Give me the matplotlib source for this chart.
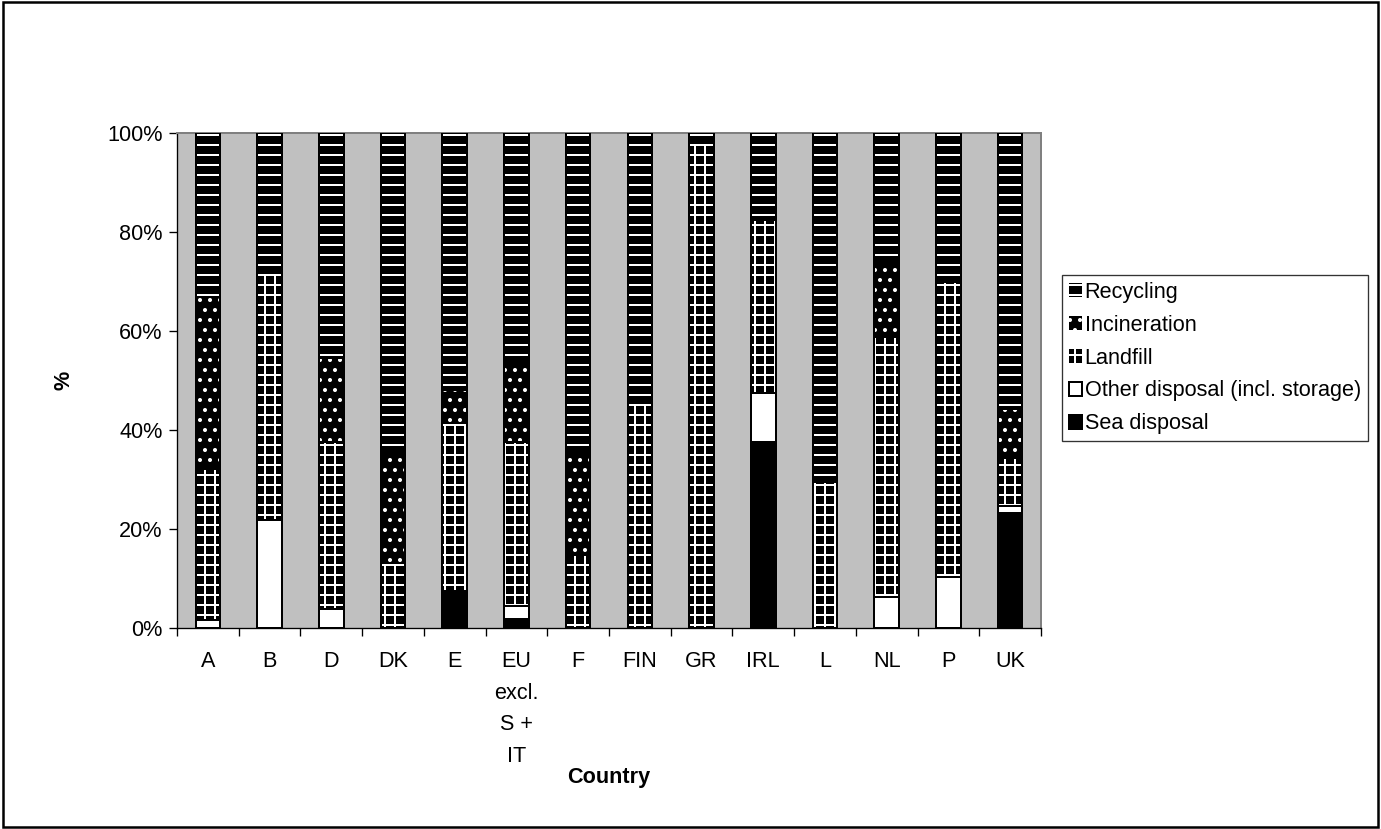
import matplotlib
matplotlib.use("Agg")
import matplotlib.pyplot as plt
import numpy as np
from matplotlib.patches import Patch, Rectangle
from matplotlib.ticker import PercentFormatter

plt.rcParams['font.family'] = ['Liberation Sans', 'DejaVu Sans']
plt.rcParams['hatch.linewidth'] = 1.2

# share of each disposal route, per country (%), stacked bottom to top
countries = ["A", "B", "D", "DK", "E", "EU\nexcl.\nS +\nIT", "F", "FIN",
             "GR", "IRL", "L", "NL", "P", "UK"]
sea_disposal = [0, 0, 0, 0, 7.4, 1.8, 0, 0, 0, 37.6, 0, 0, 0, 23.2]
other_disposal = [1.6, 21.9, 3.8, 0, 0, 2.6, 0, 0, 0, 9.9, 0, 6.3, 10.3, 1.4]
landfill = [30.5, 49.8, 33.8, 13.1, 34.0, 33.2, 14.7, 45.5, 98.0, 34.9, 29.5, 52.5, 59.6, 9.7]
incineration = [34.8, 0, 16.9, 21.8, 6.7, 15.5, 21.1, 0, 0, 0, 0, 15.2, 0, 9.9]
recycling = [33.1, 28.3, 45.5, 65.1, 51.9, 46.9, 64.2, 54.5, 2.0, 17.6, 70.5, 26.0, 30.1, 55.8]

# (label, values, face, hatch) in stacking order
series = [
    ("Sea disposal", sea_disposal, "black", None),
    ("Other disposal (incl. storage)", other_disposal, "white", None),
    ("Landfill", landfill, "black", "++"),
    ("Incineration", incineration, "black", ".."),
    ("Recycling", recycling, "black", "--"),
]

FS = 13

fig = plt.figure(figsize=(1381 / 120, 829 / 120), dpi=120)
ax = fig.add_axes([177 / 1381, 1 - 628 / 829, (1041 - 177) / 1381, (628 - 133) / 829])
ax.set_facecolor("#c0c0c0")

x = np.arange(len(countries))
width = 0.4
bottom = np.zeros(len(countries))
handles = {}
for label, vals, face, hatch in series:
    vals = np.array(vals, dtype=float)
    if hatch:
        # black fill with white hatch, then a black outline on top
        ax.bar(x, vals, width, bottom=bottom, color=face, edgecolor="white",
               hatch=hatch, linewidth=0, zorder=2)
        ax.bar(x, vals, width, bottom=bottom, fill=False, edgecolor="black",
               linewidth=1.2, zorder=3)
        handles[label] = Patch(facecolor=face, edgecolor="white", hatch=hatch, linewidth=0)
    else:
        ax.bar(x, vals, width, bottom=bottom, color=face, edgecolor="black",
               linewidth=1.2, zorder=2)
        handles[label] = Patch(facecolor=face, edgecolor="black", linewidth=1.2)
    bottom += vals

ax.set_xlim(-0.5, len(countries) - 0.5)
ax.set_ylim(0, 100)
ax.set_yticks(np.arange(0, 101, 20))
ax.yaxis.set_major_formatter(PercentFormatter(decimals=0))
ax.tick_params(axis="y", direction="out", length=5, width=0.8, pad=3.5, labelsize=FS)

# ticks between categories, labels at category centres
ax.set_xticks(np.arange(-0.5, len(countries), 1.0))
ax.set_xticklabels([])
ax.set_xticks(x, countries, minor=True)
ax.tick_params(axis="x", which="major", direction="out", length=5, width=0.8)
ax.tick_params(axis="x", which="minor", length=0, pad=14, labelsize=FS)
for t in ax.get_xticklabels(minor=True):
    t.set_linespacing(1.65)
    t.set_verticalalignment("top")

for side in ("top", "right"):
    ax.spines[side].set_color("#808080")
    ax.spines[side].set_linewidth(1.2)
for side in ("left", "bottom"):
    ax.spines[side].set_linewidth(0.8)

ax.set_ylabel("%", fontsize=FS, fontweight="bold")
ax.yaxis.set_label_coords(-(177 - 74) / (1041 - 177), 0.5)
ax.set_xlabel("Country", fontsize=FS, fontweight="bold")
ax.xaxis.set_label_coords(0.5, -(767 - 628) / (628 - 133))

order = ["Recycling", "Incineration", "Landfill", "Other disposal (incl. storage)", "Sea disposal"]
leg = fig.legend([handles[k] for k in order], order, loc="center left",
                 bbox_to_anchor=(1062 / 1381, 1 - 358 / 829), fontsize=FS,
                 frameon=True, fancybox=False, edgecolor="black",
                 handlelength=0.6, handleheight=0.6, handletextpad=0.15,
                 labelspacing=0.55, borderpad=0.3, borderaxespad=0)
leg.get_frame().set_linewidth(0.8)

# border around the whole chart area
fig.patches.append(Rectangle((0.002, 0.002), 0.996, 0.996, transform=fig.transFigure,
                             fill=False, edgecolor="black", linewidth=1.5))

fig.savefig("out.png", dpi=120, facecolor="white")
